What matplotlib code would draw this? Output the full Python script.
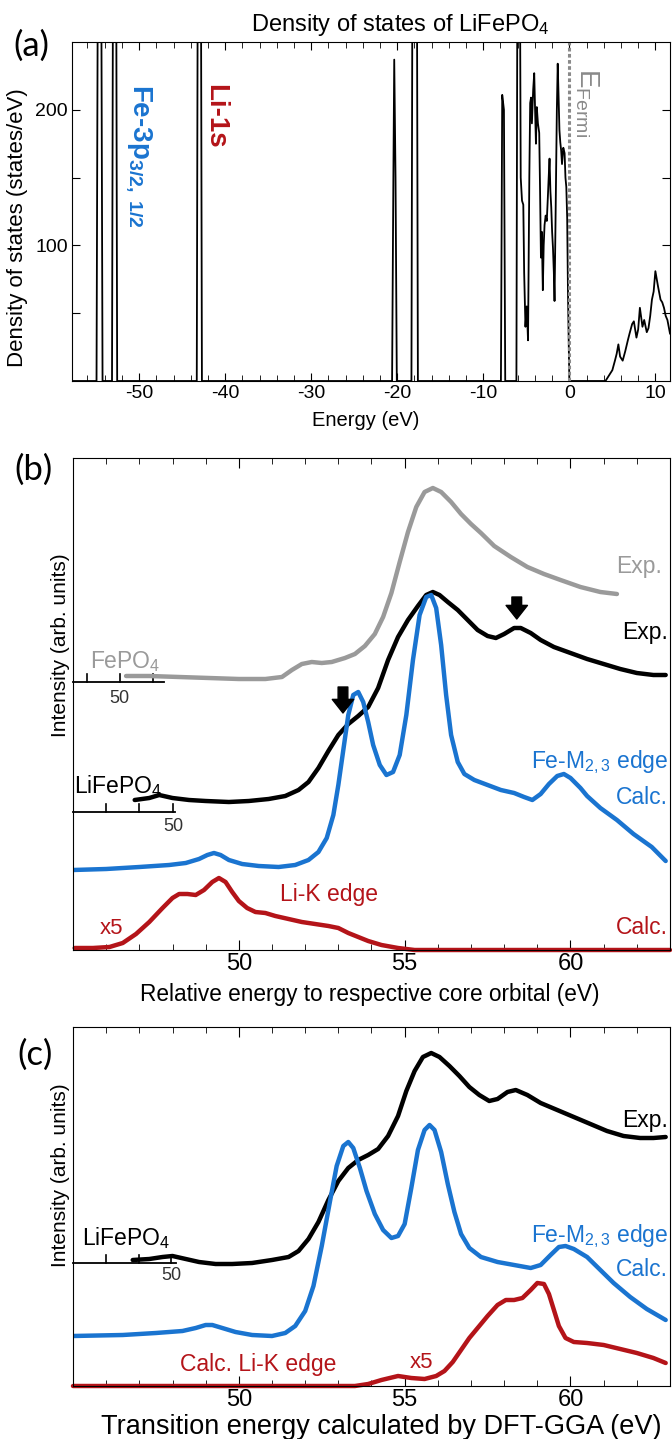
import matplotlib
matplotlib.use('Agg')
import matplotlib.pyplot as plt
from matplotlib.ticker import MultipleLocator, FixedLocator

plt.rcParams['font.family'] = ['Liberation Sans', 'DejaVu Sans']
plt.rcParams['mathtext.fontset'] = 'custom'
plt.rcParams['mathtext.rm'] = 'Liberation Sans'
plt.rcParams['mathtext.it'] = 'Liberation Sans'
plt.rcParams['mathtext.bf'] = 'Liberation Sans:bold'
plt.rcParams['mathtext.default'] = 'regular'

BLUE = '#1a74d0'
RED = '#b41419'
GRAY = '#9a9a9a'

# ---- (a) density of states of LiFePO4 (states/eV), spikes above 250 are cut
dos_e = [-57.8, -54.95, -54.75, -54.45, -54.25, -53.15, -53.0, -52.7, -52.55,
         -43.3, -43.15, -42.85, -42.7, -20.6, -20.45, -20.35, -20.2, -20.05,
         -18.35, -18.2, -17.75, -17.6, -7.95, -7.8, -7.6, -7.45,
         -6.15, -6.0, -5.8, -5.65, -5.5, -5.35, -5.25, -5.1, -4.95, -4.8, -4.65,
         -4.55, -4.45, -4.35, -4.2, -4.08, -3.98, -3.88, -3.78, -3.65, -3.5,
         -3.4, -3.3, -3.2, -3.08, -2.98, -2.88, -2.75, -2.62, -2.5, -2.4, -2.3,
         -2.2, -2.1, -2.0, -1.9, -1.8, -1.72, -1.6, -1.45, -1.35, -1.25, -1.15,
         -1.05, -0.95, -0.85, -0.7, -0.55, -0.45, -0.35, -0.25, -0.16, -0.05,
         0.0, 4.2, 4.6, 5.0, 5.3, 5.5, 5.7, 5.9, 6.2, 6.5, 6.8, 7.0,
         7.3, 7.5, 7.8, 8.0, 8.2, 8.5, 8.7, 9.0, 9.2, 9.4, 9.6, 9.8, 10.0,
         10.3, 10.6, 10.8, 11.0, 11.2, 11.4, 11.7]
dos_v = [0, 0, 400, 400, 0, 0, 400, 400, 0,
         0, 400, 400, 0, 0, 150, 237, 150, 0,
         0, 400, 400, 0, 0, 211, 200, 0,
         0, 400, 400, 150, 133, 130, 80, 40, 55, 30, 150,
         205, 209, 190, 215, 227, 200, 175, 202, 190, 183,
         140, 91, 110, 67, 100, 115, 122, 118, 135, 150, 164,
         140, 128, 110, 98, 80, 59, 120, 200, 234, 210, 185,
         176, 170, 160, 172, 168, 150, 143, 120, 67, 20,
         0, 0, 4, 8, 15, 20, 27, 18, 15, 22, 30, 35,
         42, 44, 32, 38, 54, 40, 45, 36, 39, 48, 60, 66, 81,
         70, 60, 58, 54, 48, 45, 35]

# ---- (b) spectra vs energy relative to the core orbital (eV), arb. units
fepo4_e = [46.6, 47.3, 48.2, 49.1, 50.0, 50.8, 51.3, 51.6, 51.9, 52.2, 52.5,
           52.8, 53.2, 53.5, 53.8, 54.1, 54.35, 54.6, 54.85, 55.1, 55.35, 55.6,
           55.85, 56.1, 56.4, 56.7, 57.0, 57.3, 57.7, 58.2, 58.7, 59.2, 59.7,
           60.3, 60.9, 61.4]
fepo4_i = [2.74, 2.74, 2.73, 2.72, 2.71, 2.71, 2.73, 2.80, 2.86, 2.88, 2.87,
           2.88, 2.92, 2.96, 3.04, 3.16, 3.33, 3.57, 3.88, 4.18, 4.43, 4.58,
           4.62, 4.58, 4.48, 4.36, 4.26, 4.17, 4.04, 3.93, 3.83, 3.76, 3.70,
           3.63, 3.58, 3.56]

lfp_b_e = [46.86, 47.3, 47.6, 48.0, 48.5, 49.0, 49.7, 50.3, 50.9, 51.4, 51.8,
           52.1, 52.4, 52.7, 53.0, 53.3, 53.6, 53.9, 54.2, 54.5, 54.8, 55.1,
           55.4, 55.65, 55.85, 56.05, 56.3, 56.6, 56.9, 57.2, 57.5, 57.75,
           58.0, 58.3, 58.5, 58.8, 59.1, 59.5, 60.0, 60.5, 61.0, 61.5, 62.0,
           62.5, 62.87]
lfp_b_i = [1.50, 1.52, 1.55, 1.52, 1.50, 1.49, 1.48, 1.49, 1.51, 1.54, 1.60,
           1.68, 1.82, 1.99, 2.15, 2.26, 2.34, 2.43, 2.62, 2.90, 3.13, 3.30,
           3.44, 3.55, 3.58, 3.55, 3.48, 3.40, 3.30, 3.20, 3.14, 3.12,
           3.16, 3.22, 3.22, 3.17, 3.10, 3.03, 2.97, 2.91, 2.86, 2.81, 2.77,
           2.75, 2.75]

fe_b_e = [45.0, 46.0, 47.0, 47.9, 48.4, 48.8, 49.05, 49.25, 49.45, 49.7, 50.1,
          50.6, 51.2, 51.7, 52.1, 52.4, 52.65, 52.85, 53.0, 53.15, 53.3, 53.45,
          53.6, 53.75, 53.9, 54.05, 54.25, 54.45, 54.65, 54.85, 55.05, 55.25,
          55.45, 55.65, 55.8, 55.95, 56.1, 56.25, 56.4, 56.6, 56.8, 57.1, 57.5,
          57.9, 58.3, 58.6, 58.85, 59.1, 59.35, 59.6, 59.8, 60.0, 60.3, 60.5,
          60.9, 61.4, 61.9, 62.45, 62.87]
fe_b_i = [0.80, 0.81, 0.83, 0.85, 0.87, 0.91, 0.95, 0.97, 0.95, 0.90, 0.86,
          0.84, 0.83, 0.85, 0.90, 0.98, 1.12, 1.35, 1.65, 2.00, 2.35, 2.55,
          2.58, 2.48, 2.28, 2.05, 1.85, 1.75, 1.78, 1.95, 2.35, 2.90,
          3.35, 3.53, 3.55, 3.42, 3.05, 2.55, 2.15, 1.88, 1.76, 1.70, 1.65,
          1.60, 1.57, 1.53, 1.50, 1.56, 1.66, 1.74, 1.76, 1.72, 1.62, 1.54,
          1.42, 1.30, 1.16, 1.03, 0.89]

li_b_e = [45.05, 45.6, 46.1, 46.5, 46.9, 47.3, 47.7, 48.0, 48.2, 48.45, 48.7,
          48.95, 49.2, 49.4, 49.6, 49.8, 50.0, 50.25, 50.5, 50.8, 51.1, 51.5,
          51.9, 52.3, 52.7, 53.0, 53.3, 53.6, 53.9, 54.3, 54.8, 55.3, 63.0]
li_b_i = [0.02, 0.02, 0.03, 0.07, 0.16, 0.28, 0.42, 0.52, 0.56, 0.56, 0.55,
          0.60, 0.68, 0.72, 0.68, 0.58, 0.49, 0.42, 0.38, 0.37, 0.34, 0.31,
          0.28, 0.26, 0.24, 0.22, 0.17, 0.13, 0.09, 0.05, 0.02, 0.0, 0.0]

# ---- (c) spectra vs DFT-GGA transition energy (eV), arb. units
lfp_c_e = [46.8, 47.3, 47.7, 48.0, 48.4, 48.8, 49.3, 49.8, 50.4, 51.0, 51.5,
           51.8, 52.1, 52.4, 52.7, 53.0, 53.3, 53.6, 53.9, 54.2, 54.5, 54.8,
           55.05, 55.3, 55.55, 55.8, 56.05, 56.35, 56.65, 56.95, 57.25, 57.55,
           57.8, 58.1, 58.35, 58.7, 59.1, 59.6, 60.1, 60.6, 61.1, 61.6, 62.1,
           62.5, 62.87]
lfp_c_i = [1.26, 1.27, 1.29, 1.30, 1.27, 1.24, 1.22, 1.22, 1.23, 1.26, 1.29,
           1.35, 1.47, 1.64, 1.86, 2.05, 2.18, 2.26, 2.31, 2.37, 2.50, 2.70,
           2.95, 3.15, 3.29, 3.33, 3.29, 3.20, 3.10, 2.99, 2.91, 2.85,
           2.87, 2.94, 2.96, 2.91, 2.83, 2.76, 2.69, 2.62, 2.55, 2.50, 2.48,
           2.48, 2.49]

fe_c_e = [45.0, 46.5, 47.5, 48.3, 48.7, 49.0, 49.2, 49.5, 49.9, 50.4, 51.0,
          51.4, 51.7, 52.0, 52.25, 52.5, 52.75, 52.95, 53.15, 53.3, 53.45,
          53.65, 53.85, 54.1, 54.35, 54.6, 54.8, 55.0, 55.2, 55.4, 55.6, 55.75,
          55.9, 56.1, 56.3, 56.5, 56.7, 56.95, 57.3, 57.8, 58.3, 58.8, 59.1,
          59.4, 59.65, 59.85, 60.1, 60.5, 60.9, 61.3, 61.8, 62.3, 62.87]
fe_c_i = [0.50, 0.51, 0.53, 0.55, 0.58, 0.61, 0.61, 0.58, 0.54, 0.51, 0.50,
          0.53, 0.60, 0.75, 1.00, 1.40, 1.85, 2.20, 2.40, 2.44, 2.38,
          2.18, 1.95, 1.72, 1.56, 1.48, 1.50, 1.62, 1.98, 2.36, 2.56, 2.61,
          2.56, 2.34, 2.02, 1.74, 1.52, 1.38, 1.29, 1.24, 1.21, 1.18, 1.21,
          1.31, 1.39, 1.40, 1.37, 1.29, 1.16, 1.03, 0.89, 0.77, 0.66]

li_c_e = [45.0, 53.5, 53.9, 54.3, 54.8, 55.2, 55.6, 55.95, 56.2, 56.45, 56.7,
          56.95, 57.2, 57.5, 57.8, 58.05, 58.3, 58.55, 58.8, 59.0, 59.2, 59.35,
          59.5, 59.65, 59.85, 60.1, 60.5, 61.0, 61.5, 62.0, 62.5, 62.87]
li_c_i = [0.0, 0.0, 0.02, 0.06, 0.10, 0.08, 0.07, 0.10, 0.15, 0.24, 0.36,
          0.48, 0.58, 0.70, 0.81, 0.86, 0.86, 0.88, 0.96, 1.03, 1.02, 0.92,
          0.76, 0.60, 0.48, 0.44, 0.43, 0.41, 0.37, 0.33, 0.28, 0.23]

W, H = 672, 1439
fig = plt.figure(figsize=(W / 100, H / 100), dpi=100)


def box(l, t, r, b):
    return [l / W, 1 - b / H, (r - l) / W, (b - t) / H]


def put(x, y, s, **kw):
    fig.text(x / W, 1 - y / H, s, **kw)


# ================= (a)
ax = fig.add_axes(box(72, 42, 670, 381))
ax.plot(dos_e, dos_v, color='k', lw=1.3)
ax.axvline(0, color='#8a8a8a', lw=2.2, ls=(0, (1.2, 0.8)))
ax.set_xlim(-57.8, 11.7)
ax.set_ylim(0, 250)
ax.set_xticks([-50, -40, -30, -20, -10, 0, 10],
              labels=['-50', '-40', '-30', '-20', '-10', '0', '10'])
ax.xaxis.set_minor_locator(MultipleLocator(2))
ax.set_yticks([50, 100, 150, 200], labels=['', '100', '', '200'])
ax.tick_params(which='both', direction='in', top=True, right=True,
               labelsize=14, pad=3)
ax.tick_params(which='major', length=6)
ax.tick_params(which='minor', length=4)

put(400, 25, 'Density of states of LiFePO$_4$', fontsize=17, ha='center', va='center')
put(366, 421, 'Energy (eV)', fontsize=14.5, ha='center', va='center')
put(18, 228, 'Density of states (states/eV)', fontsize=16, rotation=90,
    ha='center', va='center')
put(31, 46, '(a)', fontsize=25, family='Lato', ha='center', va='center')
put(124, 84, r'Fe-3p$_{3/2,\ 1/2}$', fontsize=20, color=BLUE, fontweight='bold',
    rotation=-90, ha='left', va='top')
put(202, 84, 'Li-1s', fontsize=20, color=RED, fontweight='bold',
    rotation=-90, ha='left', va='top')
put(573, 68, r'E$_{Fermi}$', fontsize=20, color='#8a8a8a',
    rotation=-90, ha='left', va='top')


def spectrum_axes(rect, ylim):
    a = fig.add_axes(rect)
    a.set_xlim(45, 63)
    a.set_ylim(0, ylim)
    a.set_yticks([])
    a.xaxis.set_major_locator(FixedLocator([50, 55, 60]))
    a.xaxis.set_minor_locator(FixedLocator(range(46, 63)))
    a.tick_params(which='both', direction='in', top=True, labelsize=17, pad=2)
    a.tick_params(which='major', length=7)
    a.tick_params(which='minor', length=4)
    return a


def baseline(a, start, end, level, ticks, label_at, label_y):
    a.plot([start, end], [level, level], color='k', lw=1.3, clip_on=False)
    for t in ticks:
        a.plot([t, t], [level, level + 0.08], color='k', lw=1.2)
    a.text(label_at, label_y, '50', fontsize=13, ha='center', va='center',
           color='#333333')


def down_arrow(a, x, tail, tip):
    a.annotate('', xy=(x, tip), xytext=(x, tail),
               arrowprops=dict(arrowstyle='simple,head_length=0.7,head_width=1.1,tail_width=0.5',
                               color='k', mutation_scale=14, shrinkA=0, shrinkB=0))


# ================= (b)
bx = spectrum_axes(box(73, 458, 670, 950), 4.92)
baseline(bx, 45, 47.75, 2.68, [45.42, 46.41, 47.40], 46.41, 2.52)
baseline(bx, 45, 48.08, 1.38, [45.99, 47.0, 48.02], 48.02, 1.24)
bx.plot(fepo4_e, fepo4_i, color=GRAY, lw=3.2, solid_capstyle='round')
bx.plot(lfp_b_e, lfp_b_i, color='k', lw=3.2, solid_capstyle='round')
bx.plot(fe_b_e, fe_b_i, color=BLUE, lw=3.2, solid_capstyle='round')
bx.plot(li_b_e, li_b_i, color=RED, lw=3.2, solid_capstyle='round', clip_on=False)
down_arrow(bx, 53.14, 2.63, 2.37)
down_arrow(bx, 58.38, 3.53, 3.31)

put(33, 470, '(b)', fontsize=25, family='Lato', ha='center', va='center')
put(60, 645, 'Intensity (arb. units)', fontsize=15, rotation=90,
    ha='center', va='center')
put(370, 995, 'Relative energy to respective core orbital (eV)', fontsize=16.3,
    ha='center', va='center')
put(90, 662, 'FePO$_4$', fontsize=16.5, color=GRAY, ha='left', va='center')
put(74, 786, 'LiFePO$_4$', fontsize=16.5, color='k', ha='left', va='center')
put(662, 567, 'Exp.', fontsize=16.5, color=GRAY, ha='right', va='center')
put(668, 632, 'Exp.', fontsize=16.5, color='k', ha='right', va='center')
put(668, 762, 'Fe-M$_{2,3}$ edge', fontsize=16.5, color=BLUE, ha='right', va='center')
put(668, 797, 'Calc.', fontsize=16.5, color=BLUE, ha='right', va='center')
put(668, 928, 'Calc.', fontsize=16.5, color=RED, ha='right', va='center')
put(280, 895, 'Li-K edge', fontsize=16.5, color=RED, ha='left', va='center')
put(100, 929, 'x5', fontsize=16, color=RED, ha='left', va='center')

# ================= (c)
cx = spectrum_axes(box(73, 1027, 670, 1386), 3.59)
baseline(cx, 45, 48.1, 1.23, [45.99, 46.98, 47.96], 47.96, 1.10)
cx.plot(lfp_c_e, lfp_c_i, color='k', lw=3.2, solid_capstyle='round')
cx.plot(fe_c_e, fe_c_i, color=BLUE, lw=3.2, solid_capstyle='round')
cx.plot(li_c_e, li_c_i, color=RED, lw=3.2, solid_capstyle='round', clip_on=False)

put(35, 1055, '(c)', fontsize=25, family='Lato', ha='center', va='center')
put(60, 1175, 'Intensity (arb. units)', fontsize=15, rotation=90,
    ha='center', va='center')
put(381, 1427, 'Transition energy calculated by DFT-GGA (eV)', fontsize=19.5,
    ha='center', va='center')
put(82, 1238, 'LiFePO$_4$', fontsize=16.5, color='k', ha='left', va='center')
put(668, 1120, 'Exp.', fontsize=16.5, color='k', ha='right', va='center')
put(668, 1236, 'Fe-M$_{2,3}$ edge', fontsize=16.5, color=BLUE, ha='right', va='center')
put(668, 1270, 'Calc.', fontsize=16.5, color=BLUE, ha='right', va='center')
put(180, 1364, 'Calc. Li-K edge', fontsize=16.5, color=RED, ha='left', va='center')
put(410, 1362, 'x5', fontsize=16, color=RED, ha='left', va='center')

fig.savefig('out.png', dpi=100)
